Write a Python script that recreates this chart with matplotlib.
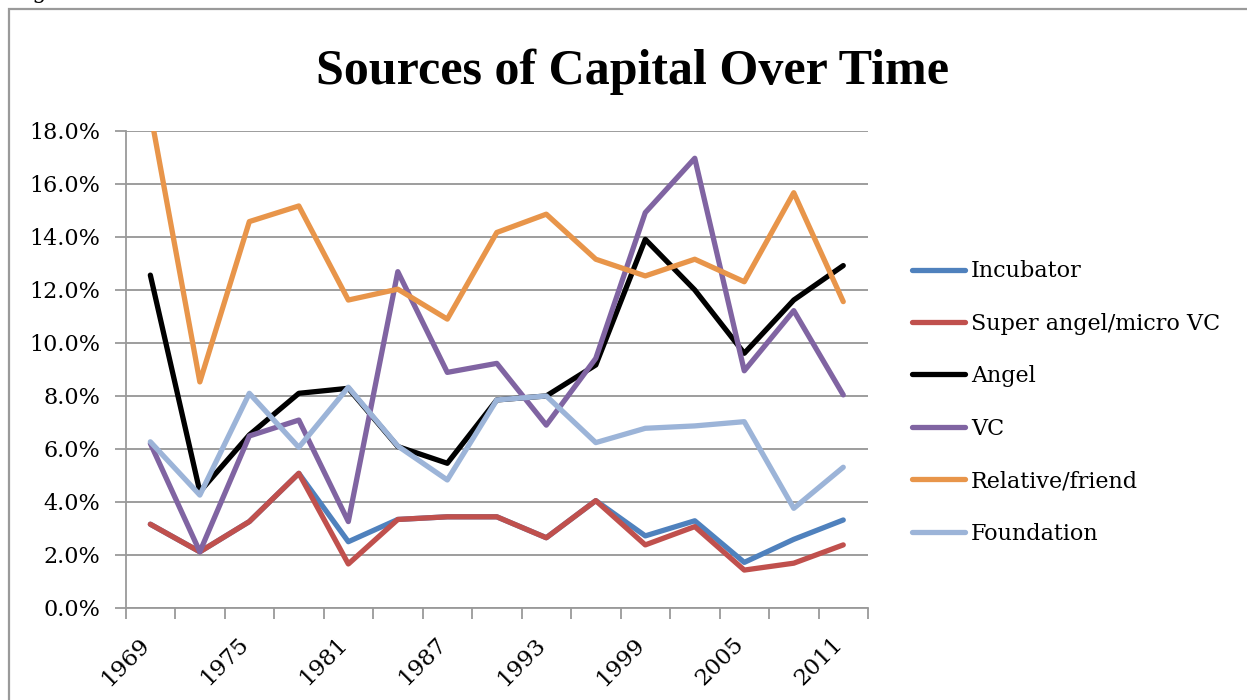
import matplotlib
matplotlib.use('Agg')
import matplotlib.pyplot as plt
from matplotlib.patches import Rectangle
from matplotlib.ticker import FuncFormatter, FixedLocator
from matplotlib.transforms import ScaledTranslation

plt.rcParams['font.family'] = ['DejaVu Serif']

years = [1969, 1972, 1975, 1978, 1981, 1984, 1987, 1990, 1993, 1996, 1999, 2002, 2005, 2008, 2011]

# values in percent
incubator = [3.15, 2.11, 3.25, 5.07, 2.49, 3.33, 3.43, 3.43, 2.64, 4.04, 2.71, 3.28, 1.71, 2.58, 3.31]
super_angel = [3.15, 2.11, 3.25, 5.07, 1.65, 3.33, 3.43, 3.43, 2.64, 4.04, 2.37, 3.06, 1.42, 1.68, 2.37]
angel = [12.55, 4.38, 6.52, 8.09, 8.28, 6.08, 5.45, 7.84, 7.99, 9.16, 13.90, 11.99, 9.60, 11.61, 12.91]
vc = [6.20, 2.11, 6.48, 7.08, 3.25, 12.68, 8.88, 9.22, 6.89, 9.41, 14.91, 16.96, 8.94, 11.21, 8.03]
relative = [18.7, 8.52, 14.57, 15.16, 11.61, 12.02, 10.89, 14.16, 14.85, 13.15, 12.52, 13.15, 12.30, 15.66, 11.55]
foundation = [6.26, 4.25, 8.09, 6.05, 8.32, 6.10, 4.82, 7.84, 7.99, 6.23, 6.77, 6.86, 7.02, 3.75, 5.30]

series = [
    ('Incubator', incubator, '#4F81BD'),
    ('Super angel/micro VC', super_angel, '#C0504D'),
    ('Angel', angel, '#000000'),
    ('VC', vc, '#8064A2'),
    ('Relative/friend', relative, '#E8954A'),
    ('Foundation', foundation, '#9CB4D8'),
]

W, H = 1247, 700
fig = plt.figure(figsize=(W / 100, H / 100), dpi=100)

# outer chart border (cropped on right and bottom)
fig.patches.append(Rectangle((9 / W, -0.1), 1.2, 1 - 9 / H + 0.1, transform=fig.transFigure,
                             fill=False, edgecolor='#9a9a9a', linewidth=1.6))
fig.text(11 / W, 1 + 2 / H, 'Figure', fontsize=16, va='baseline', ha='left')

ax = fig.add_axes([125.6 / W, 1 - 607.7 / H, (868 - 125.6) / W, 477 / H])

x = list(range(len(years)))
for name, vals, col in series:
    ax.plot(x, [v / 100 for v in vals], color=col, lw=3.8, label=name,
            solid_joinstyle='round', solid_capstyle='round')

ax.set_xlim(-0.5, len(years) - 0.5)
ax.set_ylim(0, 0.18)
ax.set_yticks([i * 0.02 for i in range(10)])
ax.yaxis.set_major_formatter(FuncFormatter(lambda v, p: '{:.1f}%'.format(v * 100)))
ax.grid(axis='y', color='#959595', lw=1.3)
ax.set_axisbelow(True)

ax.xaxis.set_major_locator(FixedLocator([i - 0.5 for i in range(len(years) + 1)]))
ax.xaxis.set_minor_locator(FixedLocator(x[::2]))
ax.set_xticklabels([], minor=False)
ax.set_xticklabels([str(y) for y in years[::2]], minor=True, rotation=45,
                   ha='right', va='center', rotation_mode='anchor')
ax.tick_params(axis='x', which='major', length=8, width=1.3, color='#9a9a9a')
ax.tick_params(axis='x', which='minor', length=0, pad=24, labelsize=16.5)
ax.tick_params(axis='y', length=8, width=1.3, color='#9a9a9a', pad=10.5, labelsize=16)
shift = ScaledTranslation(-4 / 100, 0, fig.dpi_scale_trans)
for lbl in ax.get_xticklabels(minor=True):
    lbl.set_transform(lbl.get_transform() + shift)

for s in ['top', 'right']:
    ax.spines[s].set_visible(False)
for s in ['left', 'bottom']:
    ax.spines[s].set_color('#9a9a9a')
    ax.spines[s].set_linewidth(1.3)

fig.text(632 / W, 1 - 84 / H, 'Sources of Capital Over Time', fontsize=36,
         family='Liberation Serif', fontweight='bold', ha='center', va='baseline')

ax.legend(loc='center left', bbox_to_anchor=(912 / W, 1 - 402.5 / H),
          bbox_transform=fig.transFigure, frameon=False, fontsize=16,
          handlelength=2.4, handletextpad=0.25, labelspacing=1.37,
          borderpad=0, borderaxespad=0)

fig.savefig('out.png', dpi=100)
